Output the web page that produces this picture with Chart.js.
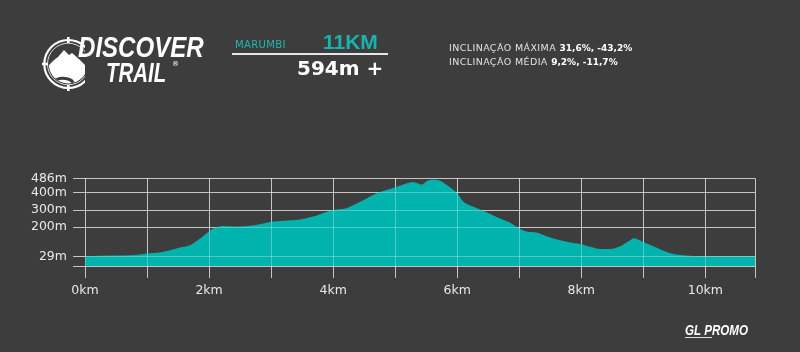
<!DOCTYPE html>
<html lang="pt-BR">
<head>
<meta charset="utf-8">
<title>Discover Trail - Marumbi 11KM</title>
<script src="https://cdn.jsdelivr.net/npm/chart.js@4.4.1/dist/chart.umd.min.js"></script>
<style>
  html, body { margin: 0; padding: 0; background: #3d3d3d; }
  #tela { position: relative; width: 800px; height: 352px; overflow: hidden; font-family: "DejaVu Sans", sans-serif; color: #fff; }
  #grafico { position: absolute; left: 0; top: 0; }
  .txt { position: absolute; white-space: nowrap; line-height: 1; }
  .marca { font-family: "Liberation Sans", sans-serif; font-weight: bold; font-style: italic; transform-origin: left top; }
</style>
</head>
<body>
<div id="tela">
  <canvas id="grafico" width="800" height="352"></canvas>

  <!-- logo -->
  <svg style="position:absolute;left:40px;top:35px" width="45" height="60" viewBox="40 35 45 60">
    <defs><clipPath id="dentro"><circle cx="68.3" cy="64" r="19.5"/></clipPath></defs>
    <circle cx="68.3" cy="64" r="24" fill="none" stroke="#fff" stroke-width="2.2"/>
    <circle cx="68.3" cy="64" r="20.8" fill="none" stroke="#fff" stroke-width="0.8"/>
    <rect x="67" y="37" width="2.6" height="6" fill="#fff"/>
    <rect x="67" y="85" width="2.6" height="6" fill="#fff"/>
    <rect x="42" y="62.7" width="6" height="2.6" fill="#fff"/>
    <g clip-path="url(#dentro)">
      <path d="M44 70 L54 60 L58 57 L64 50 L69 55 L72 53 L80 60 L90 70 L90 95 L44 95 Z" fill="#fff"/>
      <path d="M56 86 C50 80 60 77 68 79 C75 81 74 86 70 90" fill="none" stroke="#3d3d3d" stroke-width="3"/>
    </g>
  </svg>
  <div class="txt marca" style="left:78px;top:33px;font-size:29px;transform:scaleX(0.83)">DISCOVER</div>
  <div class="txt marca" style="left:106px;top:59px;font-size:28px;transform:scaleX(0.73)">TRAIL</div>
  <div class="txt" style="left:172px;top:61px;font-size:7px">®</div>

  <!-- prova -->
  <div class="txt" style="left:235px;top:39.5px;font-size:10px;letter-spacing:0.4px;color:#1fb8b1">MARUMBI</div>
  <div class="txt" style="left:323px;top:30.5px;font-size:21px;font-family:'Liberation Sans',sans-serif;font-weight:bold;color:#19b3ad">11KM</div>
  <div style="position:absolute;left:232px;top:53.3px;width:156px;height:1.5px;background:#e6e6e6"></div>
  <div class="txt" style="left:297px;top:58px;font-size:20px;font-weight:bold">594m +</div>

  <div class="txt" style="left:449px;top:42.5px;font-size:9.5px;color:#e2e2e2"><span style="letter-spacing:0.4px">INCLINAÇÃO MÁXIMA </span><b style="font-size:9px;color:#fff">31,6%, -43,2%</b></div>
  <div class="txt" style="left:449px;top:57px;font-size:9.5px;color:#e2e2e2"><span style="letter-spacing:0.4px">INCLINAÇÃO MÉDIA </span><b style="font-size:9px;color:#fff">9,2%, -11,7%</b></div>

  <!-- rodape -->
  <div class="txt marca" style="left:685px;top:323px;font-size:14px;transform:scaleX(0.83)">GL PROMO</div>
  <div style="position:absolute;left:685px;top:337px;width:27px;height:1px;background:#ddd"></div>
</div>

<script>
// perfil altimetrico (km / metros)
const distancias = [0, 0.45, 0.72, 0.89, 1.0, 1.2, 1.37, 1.53, 1.69, 1.8, 1.91, 2.0, 2.07, 2.23, 2.45, 2.62, 2.82,
  3.0, 3.2, 3.47, 3.63, 3.79, 4.0, 4.21, 4.38, 4.54, 4.7, 4.86, 5.0, 5.19, 5.29, 5.43, 5.51, 5.62, 5.72, 5.83,
  6.0, 6.1, 6.26, 6.48, 6.69, 6.85, 7.0, 7.12, 7.28, 7.44, 7.66, 7.87, 8.0, 8.19, 8.3, 8.46, 8.63, 8.76, 8.85,
  9.0, 9.21, 9.42, 9.64, 9.86, 10.0, 10.4, 10.8];
const altitudes = [29, 33, 35, 39, 45, 51, 64, 80, 94, 119, 148, 176, 192, 207, 204, 206, 217,
  231, 237, 245, 257, 276, 300, 311, 339, 368, 398, 417, 433, 457, 464, 449, 470, 478, 472, 447,
  398, 348, 319, 286, 251, 227, 192, 174, 168, 147, 123, 107, 100, 80, 72, 72, 88, 117, 135,
  113, 80, 48, 35, 29, 27, 27, 28];

const marcasAltitude = [29, 200, 300, 400, 486];
const marcasKm = [0, 1, 2, 3, 4, 5, 6, 7, 8, 9, 10, 10.8];
const alturaMin = -28;

const COR_AREA = '#00b4ad';
const COR_GRADE = 'rgba(255,255,255,0.7)';
const FONTE = { family: '"DejaVu Sans", sans-serif', size: 12.5 };

const alinhar = (p) => Math.round(p - 0.5) + 0.5;

// redesenha a grade por cima da area, clareando as linhas
const gradeSobreArea = {
  id: 'gradeSobreArea',
  afterDatasetsDraw(chart) {
    const { ctx, chartArea: a, scales: { x, y } } = chart;
    const meta = chart.getDatasetMeta(0);
    ctx.save();
    if (meta.dataset && typeof meta.dataset.path === 'function') {
      ctx.beginPath();
      meta.dataset.path(ctx);
      ctx.lineTo(a.right, a.bottom);
      ctx.lineTo(a.left, a.bottom);
      ctx.closePath();
      ctx.clip();
    }
    ctx.strokeStyle = 'rgba(255,255,255,0.3)';
    ctx.lineWidth = 1;
    ctx.beginPath();
    x.ticks.forEach(t => {
      const px = alinhar(x.getPixelForValue(t.value));
      ctx.moveTo(px, a.top); ctx.lineTo(px, a.bottom);
    });
    y.ticks.forEach(t => {
      const py = alinhar(y.getPixelForValue(t.value));
      ctx.moveTo(a.left, py); ctx.lineTo(a.right, py);
    });
    ctx.stroke();
    ctx.restore();
  }
};

new Chart(document.getElementById('grafico'), {
  type: 'line',
  data: {
    datasets: [{
      data: distancias.map((d, i) => ({ x: d, y: altitudes[i] })),
      fill: 'start',
      backgroundColor: COR_AREA,
      borderColor: COR_AREA,
      borderWidth: 0,
      pointRadius: 0,
      cubicInterpolationMode: 'monotone'
    }]
  },
  options: {
    responsive: false,
    animation: false,
    layout: { padding: { top: 178.3, right: 45, bottom: 46, left: 0 } },
    plugins: { legend: { display: false }, tooltip: { enabled: false } },
    scales: {
      x: {
        type: 'linear',
        min: 0,
        max: 10.8,
        afterBuildTicks: (s) => { s.ticks = marcasKm.map(v => ({ value: v })); },
        afterFit: (s) => { s.height = 40; },
        border: { display: false },
        grid: { color: COR_GRADE, lineWidth: 1, tickLength: 12 },
        ticks: {
          autoSkip: false,
          maxRotation: 0,
          padding: 5,
          color: '#e8e8e8',
          font: FONTE,
          callback: (v) => (v % 2 === 0 ? v + 'km' : '')
        }
      },
      y: {
        type: 'linear',
        min: alturaMin,
        max: 486,
        afterBuildTicks: (s) => { s.ticks = [alturaMin, ...marcasAltitude].map(v => ({ value: v })); },
        afterFit: (s) => { s.width = 85; },
        border: { display: false },
        grid: { color: COR_GRADE, lineWidth: 1, tickLength: 12 },
        ticks: {
          autoSkip: false,
          padding: 6,
          color: '#e8e8e8',
          font: FONTE,
          callback: (v) => (v === alturaMin ? '' : v + 'm')
        }
      }
    }
  },
  plugins: [gradeSobreArea]
});
</script>
</body>
</html>
